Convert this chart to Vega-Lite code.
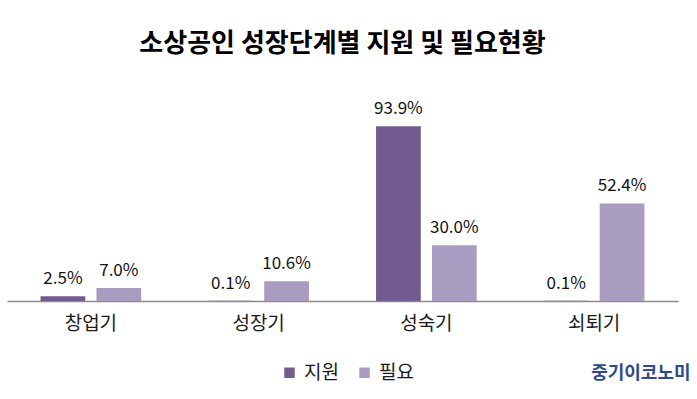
{
  "$schema": "https://vega.github.io/schema/vega-lite/v6.json",
  "width": 671,
  "height": 214,
  "padding": {"left": 7, "right": 19, "top": 31, "bottom": 6},
  "background": "white",
  "title": {
    "text": "소상공인 성장단계별 지원 및 필요현황",
    "font": "Noto Sans CJK KR",
    "fontSize": 26,
    "fontWeight": "bold",
    "color": "#000000",
    "anchor": "middle",
    "offset": 30
  },
  "data": {
    "values": [
      {"stage": "창업기", "type": "지원", "value": 0.025},
      {"stage": "창업기", "type": "필요", "value": 0.070},
      {"stage": "성장기", "type": "지원", "value": 0.001},
      {"stage": "성장기", "type": "필요", "value": 0.106},
      {"stage": "성숙기", "type": "지원", "value": 0.939},
      {"stage": "성숙기", "type": "필요", "value": 0.300},
      {"stage": "쇠퇴기", "type": "지원", "value": 0.001},
      {"stage": "쇠퇴기", "type": "필요", "value": 0.524}
    ]
  },
  "encoding": {
    "x": {
      "field": "stage",
      "type": "nominal",
      "sort": ["창업기", "성장기", "성숙기", "쇠퇴기"],
      "scale": {"paddingInner": 0.4, "paddingOuter": 0.2},
      "axis": {
        "title": "중기이코노미",
        "titleFont": "Noto Sans CJK KR",
        "titleFontSize": 18,
        "titleFontWeight": "bold",
        "titleColor": "#2e4a8b",
        "titleAlign": "right",
        "titleAnchor": null,
        "titleX": 683,
        "titleY": 72,
        "titleBaseline": "middle",
        "labelAngle": 0,
        "labelFont": "Noto Sans CJK KR",
        "labelFontSize": 19,
        "labelColor": "#1a1a1a",
        "labelPadding": 13,
        "ticks": false,
        "domainColor": "#8c8c8c",
        "domainWidth": 1.5,
        "grid": false
      }
    },
    "xOffset": {
      "field": "type",
      "type": "nominal",
      "sort": ["지원", "필요"],
      "scale": {"paddingInner": 0.2, "paddingOuter": 0}
    },
    "y": {
      "field": "value",
      "type": "quantitative",
      "scale": {"domain": [0, 1.15], "nice": false},
      "axis": null
    }
  },
  "layer": [
    {
      "mark": {"type": "bar"},
      "encoding": {
        "color": {
          "field": "type",
          "type": "nominal",
          "sort": ["지원", "필요"],
          "scale": {"domain": ["지원", "필요"], "range": ["#735b8f", "#a89cc0"]},
          "legend": {
            "title": null,
            "orient": "none",
            "legendX": 273,
            "legendY": 276,
            "direction": "horizontal",
            "symbolType": "square",
            "symbolSize": 110,
            "labelFont": "Noto Sans CJK KR",
            "labelFontSize": 19,
            "labelColor": "#1a1a1a",
            "labelOffset": 5,
            "columnPadding": 16
          }
        }
      }
    },
    {
      "mark": {
        "type": "text",
        "baseline": "alphabetic",
        "dy": -12,
        "font": "Noto Sans CJK KR",
        "fontSize": 17,
        "color": "#111111"
      },
      "encoding": {
        "text": {"field": "value", "type": "quantitative", "format": ".1%"}
      }
    }
  ],
  "config": {
    "view": {"stroke": null}
  }
}
